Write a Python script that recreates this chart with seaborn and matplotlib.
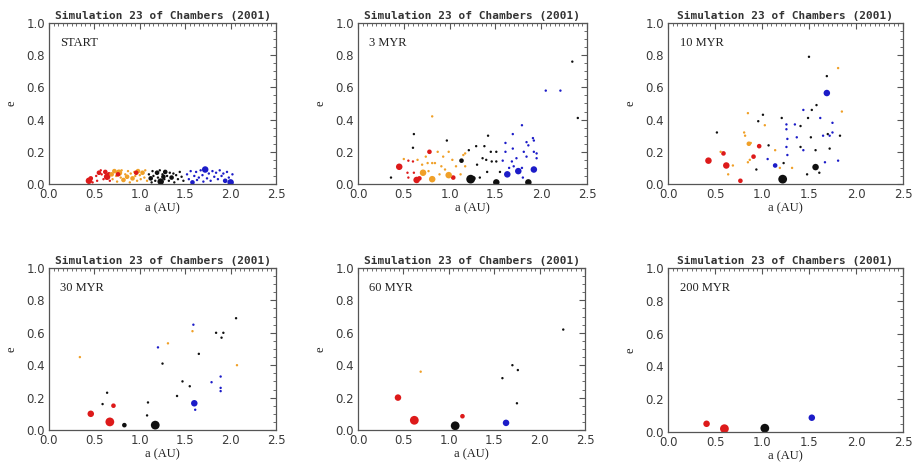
import matplotlib
matplotlib.use('Agg')
import matplotlib.pyplot as plt
import pandas as pd
import seaborn as sns
from matplotlib.ticker import MultipleLocator

# Orbital snapshots: (a [AU], e, colour group, dot size class)
# colour group: r = red, o = orange, k = black, b = blue
START = [
    (0.44, 0.02, 'r', 3), (0.46, 0.035, 'r', 2), (0.48, 0.01, 'r', 1), (0.52, 0.05, 'r', 1),
    (0.53, 0.02, 'r', 1), (0.55, 0.07, 'r', 2), (0.57, 0.085, 'r', 1), (0.58, 0.06, 'r', 1),
    (0.60, 0.03, 'r', 1), (0.62, 0.075, 'r', 2), (0.64, 0.045, 'r', 3), (0.66, 0.06, 'r', 2),
    (0.67, 0.02, 'r', 1),
    (0.69, 0.06, 'o', 2), (0.70, 0.03, 'o', 1), (0.72, 0.08, 'o', 2), (0.74, 0.05, 'o', 1),
    (0.75, 0.015, 'o', 1), (0.77, 0.07, 'o', 3), (0.79, 0.04, 'o', 1), (0.80, 0.085, 'o', 1),
    (0.82, 0.025, 'o', 2), (0.84, 0.06, 'o', 1), (0.86, 0.045, 'o', 2), (0.87, 0.08, 'o', 1),
    (0.89, 0.01, 'o', 1), (0.90, 0.065, 'o', 1), (0.92, 0.035, 'o', 2), (0.94, 0.075, 'o', 1),
    (0.95, 0.05, 'o', 1), (0.97, 0.02, 'o', 1), (0.98, 0.08, 'o', 2), (1.00, 0.055, 'o', 1),
    (1.01, 0.03, 'o', 1), (1.03, 0.07, 'o', 2), (1.05, 0.04, 'o', 1), (1.06, 0.085, 'o', 1),
    (1.08, 0.02, 'o', 1), (0.76, 0.06, 'r', 2), (0.96, 0.07, 'r', 2),
    (1.10, 0.06, 'k', 1), (1.12, 0.035, 'k', 2), (1.13, 0.01, 'k', 1), (1.14, 0.08, 'k', 1),
    (1.15, 0.05, 'k', 1), (1.17, 0.02, 'k', 1), (1.19, 0.07, 'k', 2), (1.20, 0.04, 'k', 1),
    (1.22, 0.085, 'k', 1), (1.23, 0.015, 'k', 3), (1.25, 0.06, 'k', 1), (1.26, 0.045, 'k', 2),
    (1.27, 0.03, 'k', 1), (1.28, 0.075, 'k', 2), (1.30, 0.05, 'k', 1), (1.32, 0.02, 'k', 1),
    (1.33, 0.07, 'k', 1), (1.35, 0.04, 'k', 2), (1.37, 0.065, 'k', 1), (1.38, 0.01, 'k', 1),
    (1.40, 0.055, 'k', 1), (1.42, 0.03, 'k', 1), (1.44, 0.075, 'k', 1), (1.46, 0.045, 'k', 1),
    (1.48, 0.02, 'k', 1),
    (1.52, 0.06, 'b', 1), (1.54, 0.03, 'b', 1), (1.56, 0.08, 'b', 1), (1.58, 0.01, 'b', 2),
    (1.60, 0.05, 'b', 1), (1.62, 0.075, 'b', 1), (1.63, 0.025, 'b', 1), (1.65, 0.04, 'b', 1),
    (1.67, 0.085, 'b', 1), (1.69, 0.055, 'b', 1), (1.70, 0.015, 'b', 1), (1.72, 0.09, 'b', 3),
    (1.74, 0.035, 'b', 1), (1.76, 0.065, 'b', 1), (1.78, 0.02, 'b', 1), (1.80, 0.08, 'b', 1),
    (1.82, 0.045, 'b', 1), (1.84, 0.07, 'b', 1), (1.86, 0.03, 'b', 1), (1.88, 0.085, 'b', 1),
    (1.90, 0.05, 'b', 1), (1.92, 0.065, 'b', 1), (1.94, 0.02, 'b', 2), (1.96, 0.075, 'b', 1),
    (1.98, 0.04, 'b', 1), (2.00, 0.01, 'b', 3), (2.02, 0.06, 'b', 1),
]

MYR3 = [
    (0.45, 0.107, 'r', 3), (0.55, 0.145, 'r', 1), (0.54, 0.07, 'r', 1), (0.55, 0.04, 'r', 1),
    (0.64, 0.025, 'r', 3), (0.67, 0.035, 'r', 2), (0.78, 0.20, 'r', 2), (1.04, 0.04, 'r', 2),
    (0.61, 0.07, 'r', 1), (0.60, 0.14, 'r', 1),
    (0.50, 0.155, 'o', 1), (0.65, 0.15, 'o', 1), (0.71, 0.07, 'o', 3), (0.74, 0.17, 'o', 1),
    (0.76, 0.13, 'o', 1), (0.81, 0.42, 'o', 1), (0.81, 0.13, 'o', 1), (0.84, 0.13, 'o', 1),
    (0.81, 0.03, 'o', 3), (0.87, 0.20, 'o', 1), (0.89, 0.06, 'o', 1), (0.91, 0.11, 'o', 1),
    (0.93, 0.17, 'o', 1), (0.99, 0.20, 'o', 1), (0.99, 0.055, 'o', 3), (1.03, 0.15, 'o', 1),
    (1.07, 0.11, 'o', 1), (1.12, 0.06, 'o', 1), (1.15, 0.18, 'o', 1), (1.17, 0.19, 'o', 1),
    (1.17, 0.11, 'o', 1), (0.77, 0.08, 'o', 1), (0.70, 0.12, 'o', 1), (0.95, 0.09, 'o', 1),
    (0.36, 0.04, 'k', 1), (0.61, 0.31, 'k', 1), (0.60, 0.225, 'k', 1), (0.97, 0.27, 'k', 1),
    (1.13, 0.145, 'k', 2), (1.21, 0.21, 'k', 1), (1.23, 0.03, 'k', 4), (1.26, 0.035, 'k', 2),
    (1.29, 0.235, 'k', 1), (1.33, 0.04, 'k', 1), (1.38, 0.235, 'k', 1), (1.42, 0.30, 'k', 1),
    (1.45, 0.20, 'k', 1), (1.36, 0.16, 'k', 1), (1.41, 0.075, 'k', 1), (1.46, 0.14, 'k', 1),
    (1.51, 0.01, 'k', 3), (1.51, 0.20, 'k', 1), (1.51, 0.14, 'k', 1), (1.55, 0.075, 'k', 1),
    (1.86, 0.01, 'k', 3), (1.30, 0.12, 'k', 1), (1.40, 0.15, 'k', 1),
    (1.58, 0.145, 'b', 1), (1.61, 0.255, 'b', 1), (1.61, 0.20, 'b', 1), (1.63, 0.06, 'b', 3),
    (1.65, 0.10, 'b', 1), (1.68, 0.14, 'b', 1), (1.69, 0.31, 'b', 1), (1.69, 0.22, 'b', 1),
    (1.70, 0.11, 'b', 1), (1.73, 0.16, 'b', 1), (1.75, 0.08, 'b', 3), (1.79, 0.365, 'b', 1),
    (1.79, 0.10, 'b', 1), (1.80, 0.04, 'b', 1), (1.81, 0.20, 'b', 1), (1.84, 0.26, 'b', 1),
    (1.84, 0.17, 'b', 1), (1.86, 0.24, 'b', 1), (1.91, 0.285, 'b', 1), (1.92, 0.27, 'b', 1),
    (1.92, 0.20, 'b', 1), (1.92, 0.09, 'b', 3), (1.95, 0.19, 'b', 1), (1.95, 0.16, 'b', 1),
    (2.05, 0.58, 'b', 1), (2.21, 0.58, 'b', 1), (2.34, 0.76, 'k', 1), (2.40, 0.41, 'k', 1),
]

MYR10 = [
    (0.43, 0.145, 'r', 3), (0.62, 0.115, 'r', 3), (0.59, 0.19, 'r', 2), (0.77, 0.02, 'r', 2),
    (0.91, 0.17, 'r', 2), (0.97, 0.235, 'r', 2),
    (0.56, 0.20, 'o', 1), (0.64, 0.06, 'o', 1), (0.69, 0.115, 'o', 1), (0.85, 0.44, 'o', 1),
    (0.81, 0.32, 'o', 1), (0.82, 0.30, 'o', 1), (0.86, 0.25, 'o', 2), (0.88, 0.255, 'o', 1),
    (0.85, 0.135, 'o', 1), (0.87, 0.15, 'o', 1), (1.03, 0.365, 'o', 1), (1.14, 0.21, 'o', 1),
    (1.32, 0.10, 'o', 1), (1.19, 0.10, 'o', 1), (1.81, 0.72, 'o', 1), (1.85, 0.45, 'o', 1),
    (0.52, 0.32, 'k', 1), (0.94, 0.09, 'k', 1), (0.96, 0.39, 'k', 1), (1.01, 0.43, 'k', 1),
    (1.07, 0.24, 'k', 1), (1.22, 0.03, 'k', 4), (1.21, 0.41, 'k', 1), (1.23, 0.13, 'k', 1),
    (1.41, 0.36, 'k', 1), (1.41, 0.23, 'k', 1), (1.50, 0.79, 'k', 1), (1.49, 0.41, 'k', 1),
    (1.53, 0.46, 'k', 1), (1.52, 0.29, 'k', 1), (1.48, 0.06, 'k', 1), (1.57, 0.21, 'k', 1),
    (1.57, 0.105, 'k', 3), (1.58, 0.49, 'k', 1), (1.61, 0.07, 'k', 1), (1.69, 0.67, 'k', 1),
    (1.70, 0.31, 'k', 1), (1.72, 0.22, 'k', 1), (1.83, 0.30, 'k', 1),
    (1.06, 0.155, 'b', 1), (1.14, 0.115, 'b', 2), (1.26, 0.37, 'b', 1), (1.26, 0.34, 'b', 1),
    (1.27, 0.28, 'b', 1), (1.26, 0.23, 'b', 1), (1.27, 0.18, 'b', 1), (1.37, 0.29, 'b', 1),
    (1.44, 0.46, 'b', 1), (1.44, 0.21, 'b', 1), (1.62, 0.41, 'b', 1), (1.65, 0.30, 'b', 1),
    (1.69, 0.565, 'b', 3), (1.72, 0.30, 'b', 1), (1.75, 0.38, 'b', 1), (1.75, 0.32, 'b', 1),
    (1.67, 0.135, 'b', 1), (1.81, 0.145, 'b', 1), (1.35, 0.37, 'b', 1),
]

MYR30 = [
    (0.46, 0.10, 'r', 3), (0.67, 0.05, 'r', 4), (0.71, 0.15, 'r', 2),
    (0.34, 0.45, 'o', 1), (1.31, 0.535, 'o', 1), (1.58, 0.61, 'o', 1), (2.07, 0.40, 'o', 1),
    (0.59, 0.16, 'k', 1), (0.64, 0.23, 'k', 1), (0.83, 0.03, 'k', 2), (1.09, 0.17, 'k', 1),
    (1.08, 0.09, 'k', 1), (1.17, 0.03, 'k', 4), (1.25, 0.41, 'k', 1), (1.41, 0.21, 'k', 1),
    (1.47, 0.30, 'k', 1), (1.55, 0.27, 'k', 1), (1.65, 0.47, 'k', 1), (1.84, 0.60, 'k', 1),
    (1.90, 0.57, 'k', 1), (1.92, 0.60, 'k', 1), (2.06, 0.69, 'k', 1),
    (1.20, 0.51, 'b', 1), (1.60, 0.165, 'b', 3), (1.61, 0.125, 'b', 1), (1.59, 0.65, 'b', 1),
    (1.79, 0.295, 'b', 1), (1.89, 0.33, 'b', 1), (1.89, 0.26, 'b', 1), (1.89, 0.24, 'b', 1),
]

MYR60 = [
    (0.44, 0.20, 'r', 3), (0.62, 0.06, 'r', 4), (1.15, 0.085, 'r', 2),
    (0.69, 0.36, 'o', 1),
    (1.07, 0.026, 'k', 4), (1.59, 0.32, 'k', 1), (1.70, 0.40, 'k', 1), (1.76, 0.37, 'k', 1),
    (1.75, 0.165, 'k', 1), (2.26, 0.62, 'k', 1),
    (1.63, 0.044, 'b', 3),
]

MYR200 = [
    (0.41, 0.05, 'r', 3), (0.60, 0.02, 'r', 4),
    (1.03, 0.023, 'k', 4),
    (1.53, 0.087, 'b', 3),
]

SNAPSHOTS = [START, MYR3, MYR10, MYR30, MYR60, MYR200]
LABELS = ['START', '3 MYR', '10 MYR', '30 MYR', '60 MYR', '200 MYR']
TITLE = 'Simulation 23 of Chambers (2001)'

PALETTE = {'r': '#dd1a1a', 'o': '#f0a028', 'k': '#101010', 'b': '#1c1cc8'}
SIZES = {1: 3, 2: 11, 3: 22, 4: 40}

sns.set_style('white')
plt.rcParams['font.family'] = ['DejaVu Sans']

fig = plt.figure(figsize=(9.14, 4.70), dpi=100)

# axes boxes in figure fractions (left, bottom, width, height)
boxes = [
    (0.0536, 0.6085, 0.2484, 0.3426),
    (0.3917, 0.6085, 0.2505, 0.3426),
    (0.7309, 0.6085, 0.2570, 0.3426),
    (0.0536, 0.0851, 0.2484, 0.3447),
    (0.3917, 0.0851, 0.2484, 0.3447),
    (0.7309, 0.0809, 0.2570, 0.3489),
]

for box, snap, lab in zip(boxes, SNAPSHOTS, LABELS):
    ax = fig.add_axes(box)
    df = pd.DataFrame(snap, columns=['a', 'e', 'grp', 'sz'])
    sns.scatterplot(data=df, x='a', y='e', hue='grp', palette=PALETTE,
                    size='sz', sizes=SIZES, legend=False, linewidth=0, ax=ax)
    ax.set_xlim(0, 2.5)
    ax.set_ylim(0, 1.0)
    ax.xaxis.set_major_locator(MultipleLocator(0.5))
    ax.xaxis.set_minor_locator(MultipleLocator(0.05))
    ax.yaxis.set_major_locator(MultipleLocator(0.2))
    ax.yaxis.set_minor_locator(MultipleLocator(0.05))
    ax.tick_params(which='both', direction='in', top=True, right=True,
                   color='#555555', labelsize=8.5, labelcolor='#3a3a3a', pad=3)
    ax.tick_params(which='major', length=4, width=0.8)
    ax.tick_params(which='minor', length=2, width=0.6)
    for sp in ax.spines.values():
        sp.set_color('#555555')
        sp.set_linewidth(0.9)
    ax.set_title(TITLE, fontsize=8, family='DejaVu Sans Mono', fontweight='bold',
                 color='#333333', pad=3)
    ax.set_xlabel('a (AU)', fontsize=9, family='Liberation Serif', color='#222222', labelpad=1)
    ax.set_ylabel('e', fontsize=9, family='Liberation Serif', color='#222222', labelpad=6)
    ax.text(0.05, 0.875, lab, transform=ax.transAxes, fontsize=9,
            family='Liberation Serif', color='#222222', va='center')

fig.savefig('out.png', dpi=100)
